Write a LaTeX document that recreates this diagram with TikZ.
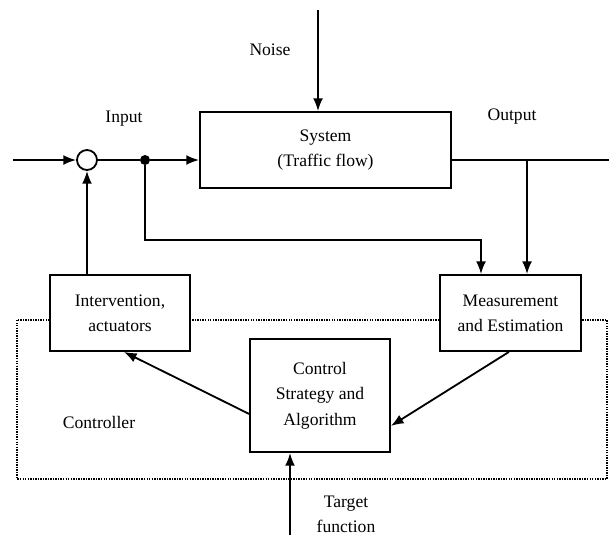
\documentclass[tikz,border=0pt]{standalone}
\usepackage{fontspec}
\setmainfont{Liberation Serif}
\usepackage{tikz}
\usetikzlibrary{arrows.meta}
\usetikzlibrary{calc}
\usetikzlibrary{positioning}
\tikzset{>={Latex[length=9pt,width=7pt]}}
\newcommand\linewd{1.3pt}
\newcommand\dotwidth{.9pt}
\tikzstyle{graph}      = [line width=\linewd]
\tikzstyle{block}      = [draw, graph, fill=white, rectangle, align=center, inner sep=2pt]
\tikzstyle{label}      = [align=center, inner sep=0pt]
\tikzstyle{controller} = [line width=\dotwidth, dash pattern=on 1pt off .8pt]

\begin{document}
\begin{tikzpicture}[x=0.025cm, y=-0.025cm, font=\fontsize{12.5}{18}\selectfont]
    \useasboundingbox (0, 0) rectangle (609, 535);
    % controller frame
    \draw[controller] (17, 320) rectangle (607, 479);
    % blocks
    \draw (325.5, 150) node[block, minimum width=6.275cm, minimum height=1.9cm] (sys) {System\\(Traffic flow)};
    \draw (120, 313) node[block, minimum width=3.5cm, minimum height=1.9cm] (act) {Intervention,\\actuators};
    \draw (510.5, 313) node[block, minimum width=3.525cm, minimum height=1.9cm] (meas) {Measurement\\and Estimation};
    \draw (320, 395.5) node[block, minimum width=3.5cm, minimum height=2.825cm] (ctrl) {Control\\Strategy and\\Algorithm};
    \draw (87, 160) node[draw, graph, circle, fill=white, minimum size=0.5cm, inner sep=0pt] (sum) {};
    \draw (145, 160) node[circle, fill=black, minimum size=0.25cm, inner sep=0pt] (split) {};
    % labels
    \draw (270, 50) node[label] (noiselbl) {Noise};
    \draw (124, 119) node[label] (inlbl) {Input};
    \draw (512, 117) node[label] (outlbl) {Output};
    \draw (99, 422) node[label] (ctrllbl) {Controller};
    \draw (346, 514) node[label] (targetlbl) {Target\\function};
    % free ends
    \coordinate (in) at (13, 160);
    \coordinate (out) at (609, 160);
    \coordinate (noise) at (318, 10);
    \coordinate (tapin) at (481, 240);
    \coordinate (tapout) at (527, 160);
    \coordinate (target) at (290, 535);
    % connectors
    \draw[graph, ->] (in) -- (sum);
    \draw[graph] (sum) -- (split);
    \draw[graph, ->] (split) -- (split -| sys.west);
    \draw[graph, ->] (noise) -- (noise |- sys.north);
    \draw[graph] (out -| sys.east) -- (out);
    \draw[graph, ->] (tapout) -- (tapout |- meas.north);
    \draw[graph, ->] (split) |- (tapin) -- (tapin |- meas.north);
    \draw[graph, ->] (sum |- act.north) -- (sum);
    \draw[graph, ->] ([yshift=-0.46cm]ctrl.west) -- ([xshift=0.1cm]act.south);
    \draw[graph, ->] ([xshift=-0.04cm]meas.south) -- ([yshift=-0.76cm]ctrl.east);
    \draw[graph, ->] (target) -- (target |- ctrl.south);
\end{tikzpicture}
\end{document}
